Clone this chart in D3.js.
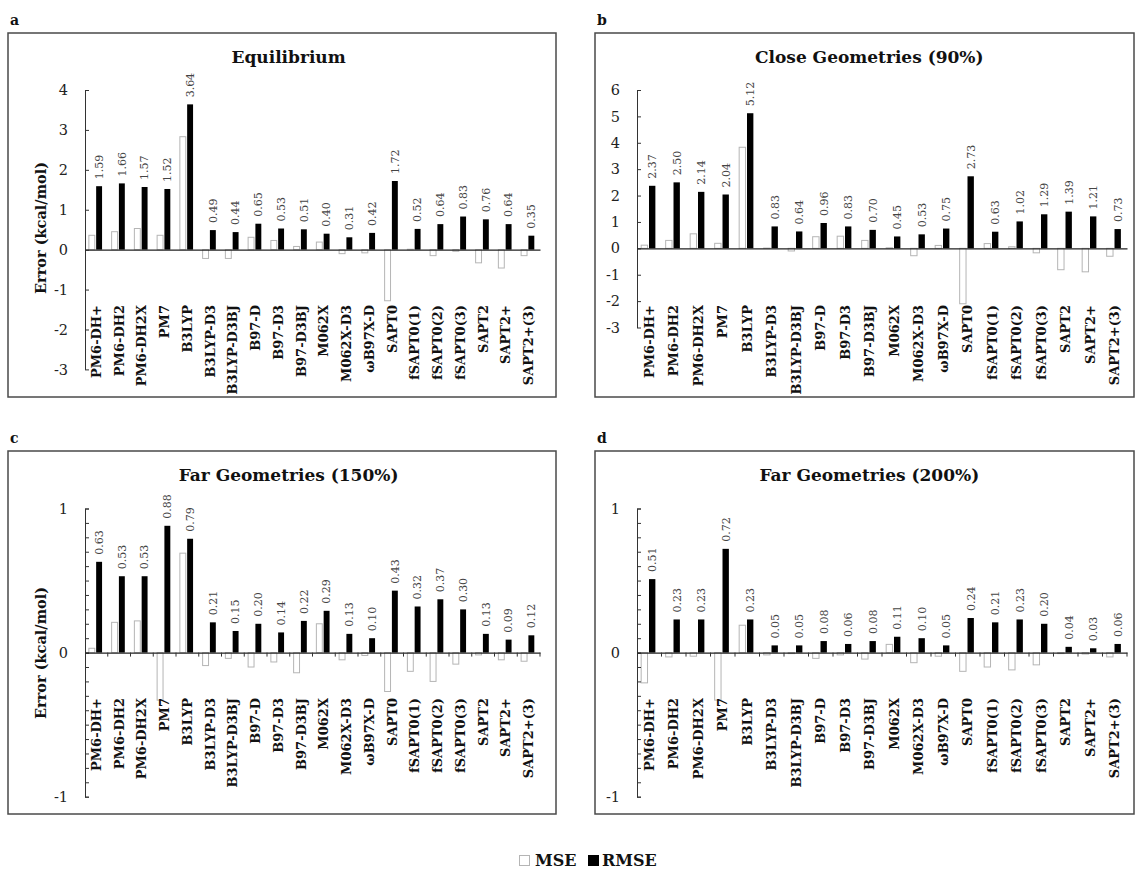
<!DOCTYPE html>
<html>
<head>
<meta charset="utf-8">
<script src="https://cdn.jsdelivr.net/npm/d3@7"></script>
<style>
  html, body { margin: 0; padding: 0; background: #fff; }
  svg { display: block; }
</style>
</head>
<body>
<svg id="chart" width="1139" height="871"></svg>
<script>
// Methods compared in every panel
const categories = ["PM6-DH+", "PM6-DH2", "PM6-DH2X", "PM7", "B3LYP", "B3LYP-D3", "B3LYP-D3BJ",
  "B97-D", "B97-D3", "B97-D3BJ", "M062X", "M062X-D3", "ωB97X-D", "SAPT0",
  "fSAPT0(1)", "fSAPT0(2)", "fSAPT0(3)", "SAPT2", "SAPT2+", "SAPT2+(3)"];

// Equilibrium (kcal/mol)
const eqMSE  = [0.36, 0.45, 0.53, 0.36, 2.83, -0.22, -0.22, 0.31, 0.23, 0.08, 0.19, -0.10, -0.08, -1.28, 0.01, -0.15, -0.04, -0.33, -0.46, -0.15];
const eqRMSE = [1.59, 1.66, 1.57, 1.52, 3.64, 0.49, 0.44, 0.65, 0.53, 0.51, 0.40, 0.31, 0.42, 1.72, 0.52, 0.64, 0.83, 0.76, 0.64, 0.35];

// Close geometries, 90%
const closeMSE  = [0.12, 0.30, 0.55, 0.19, 3.83, 0.01, -0.10, 0.44, 0.46, 0.30, 0.02, -0.28, 0.11, -2.10, 0.18, 0.06, -0.17, -0.81, -0.89, -0.30];
const closeRMSE = [2.37, 2.50, 2.14, 2.04, 5.12, 0.83, 0.64, 0.96, 0.83, 0.70, 0.45, 0.53, 0.75, 2.73, 0.63, 1.02, 1.29, 1.39, 1.21, 0.73];

// Far geometries, 150%
const far150MSE  = [0.03, 0.21, 0.22, -0.33, 0.69, -0.09, -0.04, -0.10, -0.065, -0.14, 0.20, -0.05, -0.02, -0.27, -0.13, -0.20, -0.08, -0.016, -0.05, -0.06];
const far150RMSE = [0.63, 0.53, 0.53, 0.88, 0.79, 0.21, 0.15, 0.20, 0.14, 0.22, 0.29, 0.13, 0.10, 0.43, 0.32, 0.37, 0.30, 0.13, 0.09, 0.12];

// Far geometries, 200%
const far200MSE  = [-0.21, -0.03, -0.025, -0.33, 0.19, -0.016, -0.007, -0.04, -0.016, -0.045, 0.057, -0.07, -0.025, -0.13, -0.10, -0.12, -0.085, -0.007, -0.01, -0.03];
const far200RMSE = [0.51, 0.23, 0.23, 0.72, 0.23, 0.05, 0.05, 0.08, 0.06, 0.08, 0.11, 0.10, 0.05, 0.24, 0.21, 0.23, 0.20, 0.04, 0.03, 0.06];

const panelLetters = ["a", "b", "c", "d"];
const panelTitles = ["Equilibrium", "Close Geometries (90%)", "Far Geometries (150%)", "Far Geometries (200%)"];
const ticksWide = [-3, -2, -1, 0, 1, 2, 3, 4];
const ticksClose = [-3, -2, -1, 0, 1, 2, 3, 4, 5, 6];
const ticksFar = [-1, 0, 1];
const seriesNames = ["MSE", "RMSE"];
const yTitle = "Error (kcal/mol)";

const SERIF = "'DejaVu Serif', serif";
const svg = d3.select("#chart");

const panels = [
  { letter: panelLetters[0], title: panelTitles[0], mse: eqMSE, rmse: eqRMSE, ticks: ticksWide, domain: [-3, 4],
    frame: [8, 33, 548, 364], x0: 85, x1: 540, yTop: 90, yBot: 369.4, labelTop: 305, yLabelY: 228, minor: false, catTicks: false },
  { letter: panelLetters[1], title: panelTitles[1], mse: closeMSE, rmse: closeRMSE, ticks: ticksClose, domain: [-3, 6],
    frame: [595, 33, 539, 364], x0: 637, x1: 1127, yTop: 90, yBot: 327.5, labelTop: 305, yLabelY: null, minor: false, catTicks: false },
  { letter: panelLetters[2], title: panelTitles[2], mse: far150MSE, rmse: far150RMSE, ticks: ticksFar, domain: [-1, 1],
    frame: [8, 451, 548, 363], x0: 85, x1: 540, yTop: 508.5, yBot: 796.7, labelTop: 698, yLabelY: 653, minor: true, catTicks: true },
  { letter: panelLetters[3], title: panelTitles[3], mse: far200MSE, rmse: far200RMSE, ticks: ticksFar, domain: [-1, 1],
    frame: [595, 451, 539, 363], x0: 637, x1: 1127, yTop: 508.5, yBot: 796.7, labelTop: 698, yLabelY: null, minor: true, catTicks: true }
];

panels.forEach(p => {
  const [fx, fy, fw, fh] = p.frame;
  const g = svg.append("g");

  // panel letter and frame
  g.append("text").attr("x", fx + 2).attr("y", fy - 8)
    .attr("font-family", SERIF).attr("font-weight", "bold").attr("font-size", 14)
    .attr("fill", "#111").text(p.letter);
  g.append("rect").attr("x", fx).attr("y", fy).attr("width", fw).attr("height", fh)
    .attr("fill", "none").attr("stroke", "#4a4a4a").attr("stroke-width", 1.5);

  // title
  g.append("text").attr("x", fx + fw * 0.505 + (p.x0 - fx) * 0.05).attr("y", fy + 30)
    .attr("text-anchor", "middle").attr("font-family", SERIF).attr("font-weight", "bold")
    .attr("font-size", 17).attr("fill", "#111").text(p.title);

  const x = d3.scaleBand().domain(categories).range([p.x0, p.x1]).paddingInner(0).paddingOuter(0);
  const y = d3.scaleLinear().domain(p.domain).range([p.yBot, p.yTop]);
  const bw = x.bandwidth();

  // MSE bars (open)
  g.append("g").selectAll("rect").data(p.mse).join("rect")
    .attr("x", (d, i) => x(categories[i]) + bw * 0.17)
    .attr("width", bw * 0.26)
    .attr("y", d => Math.min(y(d), y(0)))
    .attr("height", d => Math.abs(y(d) - y(0)))
    .attr("fill", "#fff").attr("stroke", "#b5b5b5").attr("stroke-width", 1);

  // RMSE bars (solid)
  g.append("g").selectAll("rect").data(p.rmse).join("rect")
    .attr("x", (d, i) => x(categories[i]) + bw * 0.49)
    .attr("width", bw * 0.26)
    .attr("y", d => y(d))
    .attr("height", d => y(0) - y(d))
    .attr("fill", "#000");

  // RMSE value labels
  g.append("g").selectAll("text").data(p.rmse).join("text")
    .attr("transform", (d, i) => `translate(${x(categories[i]) + bw * 0.62},${y(d) - 7}) rotate(-90)`)
    .attr("dy", "0.35em")
    .attr("font-family", SERIF).attr("font-size", 11).attr("fill", "#444")
    .text(d => d.toFixed(2));

  // y axis with inward ticks; labels use a plain hyphen for negatives
  const yAxis = d3.axisLeft(y).tickValues(p.ticks).tickFormat(d => String(d))
    .tickSizeInner(-4).tickSizeOuter(0).tickPadding(17);
  const ya = g.append("g").attr("transform", `translate(${p.x0},0)`).call(yAxis);
  ya.select(".domain").attr("stroke", "#333");
  ya.selectAll(".tick line").attr("stroke", "#333");
  ya.selectAll(".tick text").attr("font-family", SERIF).attr("font-size", 14.5).attr("fill", "#222");

  if (p.minor) {
    const minorAxis = d3.axisLeft(y).tickValues(d3.range(-10, 11).map(v => v / 10))
      .tickFormat("").tickSizeInner(-4).tickSizeOuter(0);
    const ma = g.append("g").attr("transform", `translate(${p.x0},0)`).call(minorAxis);
    ma.select(".domain").remove();
    ma.selectAll(".tick line").attr("stroke", "#333");
  }

  // category axis along zero
  const xAxis = d3.axisBottom(x).tickFormat("").tickSize(0);
  const xa = g.append("g").attr("transform", `translate(0,${y(0)})`).call(xAxis);
  xa.select(".domain").attr("stroke", "#222").attr("stroke-width", 1.3);
  if (p.catTicks) {
    g.append("g").selectAll("line").data(categories).join("line")
      .attr("x1", c => x(c) + bw).attr("x2", c => x(c) + bw)
      .attr("y1", y(0)).attr("y2", y(0) + 4)
      .attr("stroke", "#333");
  }

  // category labels
  g.append("g").selectAll("text").data(categories).join("text")
    .attr("transform", c => `translate(${x(c) + bw / 2},${p.labelTop}) rotate(-90)`)
    .attr("text-anchor", "end").attr("dy", "0.35em")
    .attr("font-family", SERIF).attr("font-weight", "bold").attr("font-size", 13)
    .attr("fill", "#111").text(c => c);

  if (p.yLabelY !== null) {
    g.append("text").attr("transform", `translate(41,${p.yLabelY}) rotate(-90)`)
      .attr("text-anchor", "middle").attr("dy", "0.35em")
      .attr("font-family", SERIF).attr("font-weight", "bold").attr("font-size", 14.5)
      .attr("fill", "#111").text(yTitle);
  }
});

// legend
const legend = svg.append("g").attr("font-family", SERIF).attr("font-weight", "bold").attr("font-size", 16);
legend.append("rect").attr("x", 519.5).attr("y", 855.5).attr("width", 10).attr("height", 10)
  .attr("fill", "#fff").attr("stroke", "#b5b5b5");
legend.append("text").attr("x", 535).attr("y", 866).attr("fill", "#111").text(seriesNames[0]);
legend.append("rect").attr("x", 588).attr("y", 855).attr("width", 11).attr("height", 11).attr("fill", "#000");
legend.append("text").attr("x", 602).attr("y", 866).attr("fill", "#111").text(seriesNames[1]);
</script>
</body>
</html>
